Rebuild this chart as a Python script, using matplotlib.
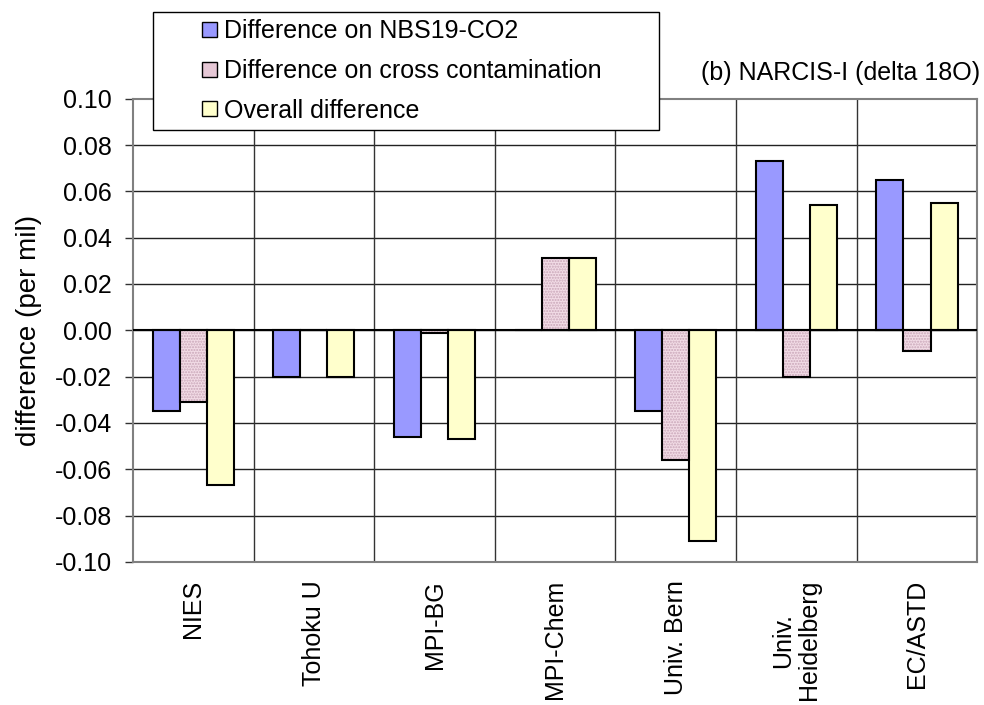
import matplotlib
matplotlib.use("Agg")
import matplotlib.pyplot as plt
import numpy as np
from matplotlib.patches import Patch, Rectangle
from matplotlib.legend_handler import HandlerPatch

plt.rcParams['font.family'] = ['Liberation Sans', 'DejaVu Sans']
plt.rcParams['axes.unicode_minus'] = False

# data
labs = ["NIES", "Tohoku U", "MPI-BG", "MPI-Chem", "Univ. Bern",
        "Univ.\nHeidelberg", "EC/ASTD"]
d_nbs = [-0.035, -0.020, -0.046, 0.0, -0.035, 0.073, 0.065]
d_cross = [-0.031, 0.0, -0.001, 0.031, -0.056, -0.020, -0.009]
d_all = [-0.067, -0.020, -0.047, 0.031, -0.091, 0.054, 0.055]
series_names = ["Difference on NBS19-CO2",
                "Difference on cross contamination",
                "Overall difference"]

c_blue = "#9999FF"
c_pink = "#F2DCE6"
c_pink_dots = "#C9A6B8"
c_yel = "#FFFFCC"

fig = plt.figure(figsize=(9.84, 7.05), dpi=100)
ax = fig.add_axes([0.1352, 0.203, 0.858, 0.657])

x = np.arange(len(labs))
w = 0.224
ax.bar(x - w, d_nbs, w, color=c_blue, edgecolor="black", lw=1.5, zorder=3)
# dotted fill for the cross contamination bars, then the black outline
ax.bar(x, d_cross, w, color=c_pink, edgecolor=c_pink_dots, hatch="......", lw=0, zorder=3)
ax.bar(x, d_cross, w, color="none", edgecolor="black", lw=1.5, zorder=4)
ax.bar(x + w, d_all, w, color=c_yel, edgecolor="black", lw=1.5, zorder=3)

ax.set_xlim(-0.5, len(labs) - 0.5)
ax.set_ylim(-0.10, 0.10)
yt = np.arange(-0.10, 0.101, 0.02)
ax.set_yticks(yt)
ax.set_yticklabels([f"{v:.2f}" for v in yt], fontsize=18)
ax.tick_params(axis="y", direction="out", length=6, width=1, color="#333333", pad=9)

ax.set_xticks(x)
ax.set_xticklabels(labs, rotation=90, fontsize=18, va="top", ha="center",
                   multialignment="center", linespacing=1.1)
ax.tick_params(axis="x", length=0, pad=13)

ax.set_ylabel("difference (per mil)", fontsize=20, labelpad=9)

# grid: horizontal at every tick, vertical at category boundaries
for yv in np.arange(-0.08, 0.081, 0.02):
    ax.axhline(yv, color="#222222", lw=1, zorder=1)
for xb in np.arange(0.5, len(labs) - 0.5, 1):
    ax.axvline(xb, color="#333333", lw=1, zorder=1)
ax.axhline(0, color="black", lw=1.5, zorder=5)

for s in ax.spines.values():
    s.set_color("#808080")
    s.set_linewidth(1.5)


def small_square(legend, orig_handle, xdescent, ydescent, width, height, fontsize):
    side = 0.6 * fontsize
    return Rectangle((width - side - xdescent, (height - side) / 2 - ydescent), side, side)


handles = [Patch(facecolor=c_blue, edgecolor="black", lw=1),
           Patch(facecolor="#E6C8D6", edgecolor="black", lw=1),
           Patch(facecolor=c_yel, edgecolor="black", lw=1)]
leg = fig.legend(handles, series_names, loc="upper left",
                 bbox_to_anchor=(153 / 984, 1 - 12 / 705 - 0.01, 506 / 984, 0.01),
                 mode="expand", fontsize=18, frameon=True, fancybox=False,
                 edgecolor="black", framealpha=1, borderpad=0.3, labelspacing=0.62,
                 handlelength=2.24, handletextpad=0.32, borderaxespad=0,
                 handler_map={Patch: HandlerPatch(patch_func=small_square)})
leg.get_frame().set_linewidth(1)
leg.set_zorder(10)

fig.text(0.996, 1 - 73 / 705, "(b) NARCIS-I (delta 18O)", fontsize=18,
         ha="right", va="center")

fig.savefig("out.png", dpi=100)
